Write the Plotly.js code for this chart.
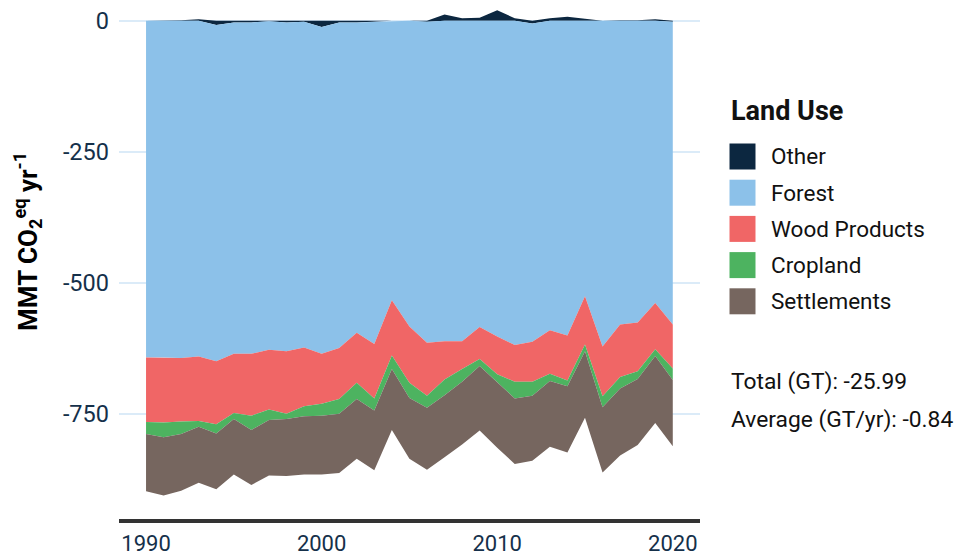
<!DOCTYPE html>
<html>
<head>
<meta charset="utf-8">
<script src="https://cdn.plot.ly/plotly-3.0.1.min.js"></script>
<style>html,body{margin:0;padding:0;background:#fff;}#chart{width:962px;height:559px;}</style>
</head>
<body>
<div id="chart"></div>
<script>
// ---- data (MMT CO2eq per year) ----
const years = [1990,1991,1992,1993,1994,1995,1996,1997,1998,1999,2000,2001,2002,2003,2004,2005,2006,2007,2008,2009,2010,2011,2012,2013,2014,2015,2016,2017,2018,2019,2020];
const other = [0,0,1,3,-8,-3,-3,-1,-3,-2,-12,-3,-3,-2,1,1,-2,12,5,6,20,5,-5,5,8,4,0,1,1,3,-2];
const forest = [-642,-642,-643,-640,-641,-632,-632,-626,-627,-621,-623,-621,-592,-614,-533,-583,-612,-611,-611,-584,-602,-618,-607,-590,-600,-525,-621,-579,-575,-538,-577];
const woodProducts = [-123,-124,-121,-123,-120,-113,-118,-114,-119,-112,-95,-97,-95,-104,-105,-107,-101,-73,-53,-61,-72,-70,-76,-83,-86,-92,-95,-100,-93,-88,-84];
const cropland = [-23,-28,-24,-11,-18,-11,-27,-20,-10,-19,-23,-28,-31,-23,-26,-29,-23,-30,-24,-13,-15,-32,-27,-14,-11,-13,-21,-22,-15,-13,-22];
const settlements = [-109,-111,-108,-107,-106,-106,-105,-106,-109,-111,-112,-113,-114,-114,-116,-116,-118,-118,-120,-123,-125,-125,-124,-125,-126,-127,-124,-128,-126,-128,-126];
const layerNames = ["Other","Forest","Wood Products","Cropland","Settlements"];
const layerColors = ["#0c2740","#8cc1e9","#f06666","#4db360","#76665f"];
const yTicks = [0,-250,-500,-750];
const yTickText = ["0","-250","-500","-750"];
const xTicks = [1990,2000,2010,2020];
const statLines = ["Total (GT): -25.99","Average (GT/yr): -0.84"];

// ---- stacking: positives up from 0, negatives down from 0 ----
const series = [other, forest, woodProducts, cropland, settlements];
const posBase = years.map(()=>0), negBase = years.map(()=>0);
const traces = [];
series.forEach((vals, k) => {
  const lo = [], hi = [];
  vals.forEach((v, i) => {
    if (v >= 0) { lo.push(posBase[i]); hi.push(posBase[i] + v); posBase[i] += v; }
    else { hi.push(negBase[i]); lo.push(negBase[i] + v); negBase[i] += v; }
  });
  traces.push({
    type: "scatter", mode: "lines", name: layerNames[k],
    x: years.concat(years.slice().reverse()),
    y: hi.concat(lo.slice().reverse()),
    fill: "toself", fillcolor: layerColors[k],
    line: {width: 0, color: layerColors[k]},
    hoverinfo: "skip", showlegend: false
  });
});

// ---- layout geometry (pixels) ----
const W = 962, H = 559, L = 119, R = 262, T = 0, B = 40;
const pw = W - L - R, ph = H - T - B;
const px = x => (x - L) / pw;
const py = y => (T + ph - y) / ph;

const FONT = "Roboto, 'Noto Sans', sans-serif";
const TXT = "#15304a";

const shapes = [], annotations = [];
// legend title
annotations.push({xref:"paper", yref:"paper", x:px(729), y:py(111), xanchor:"left", yanchor:"middle",
  text:"<b>Land Use</b>", showarrow:false, font:{family:FONT, size:27, color:"#111"}});
layerNames.forEach((n, k) => {
  const cy = 156.5 + k * 36.2;
  shapes.push({type:"rect", xref:"paper", yref:"paper", x0:px(729.5), x1:px(755.5), y0:py(cy-13), y1:py(cy+13),
    fillcolor:layerColors[k], line:{width:0}});
  annotations.push({xref:"paper", yref:"paper", x:px(769), y:py(cy), xanchor:"left", yanchor:"middle",
    text:n, showarrow:false, font:{family:FONT, size:22.5, color:"#111"}});
});
statLines.forEach((s, k) => {
  annotations.push({xref:"paper", yref:"paper", x:px(729), y:py(381 + k*38.5), xanchor:"left", yanchor:"middle",
    text:s, showarrow:false, font:{family:FONT, size:22.8, color:"#111"}});
});
// y-axis title
annotations.push({xref:"paper", yref:"paper", x:px(27), y:py(242), xanchor:"center", yanchor:"middle",
  textangle:-90, text:"<b>MMT CO<sub>2</sub><sup>eq</sup> yr<sup>-1</sup></b>", showarrow:false,
  font:{family:FONT, size:26, color:"#000"}});

const layout = {
  width: W, height: H,
  margin: {l:L, r:R, t:T, b:B, pad:0},
  paper_bgcolor:"#fff", plot_bgcolor:"#fff",
  showlegend:false,
  xaxis: {range:[1988.46, 2021.55], tickvals:xTicks, ticktext:xTicks.map(String), showgrid:false, zeroline:false,
    showline:true, linewidth:3.5, linecolor:"#333333", ticks:"", ticklabelstandoff:2,
    tickfont:{family:FONT, size:22, color:TXT}},
  yaxis: {range:[-949.9, 39.7], tickvals:yTicks, ticktext:yTickText, showgrid:true, gridcolor:"#dbebf8", gridwidth:2,
    zeroline:false, showline:false, ticks:"", ticklabelstandoff:9,
    tickfont:{family:FONT, size:23.5, color:TXT}},
  shapes: shapes, annotations: annotations
};

Plotly.newPlot("chart", traces, layout, {staticPlot:true, displayModeBar:false});
</script>
</body>
</html>
